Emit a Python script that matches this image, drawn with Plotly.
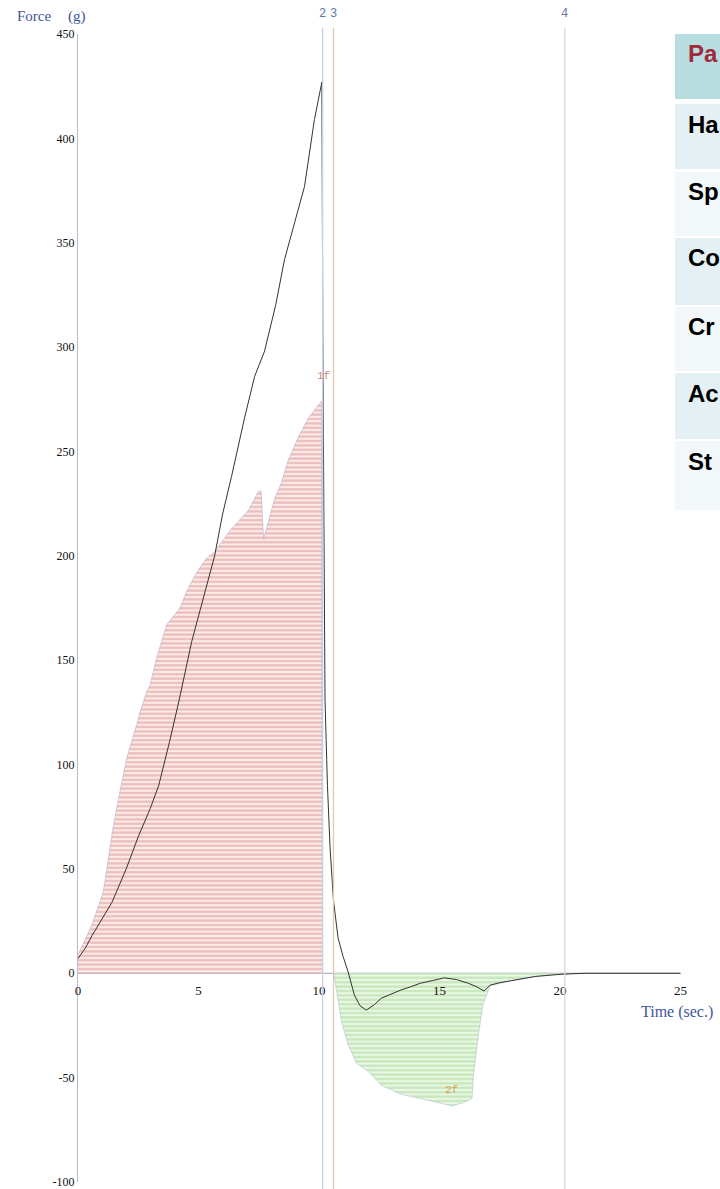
import plotly.graph_objects as go

# ---------------- data ----------------
# black force curve
t_force = [0, 0.3, 0.58, 1.0, 1.41, 2.0, 2.52, 3.0, 3.35, 3.8, 4.18, 4.72, 5.26,
           5.67, 6.0, 6.37, 6.91, 7.33, 7.74, 8.2, 8.57, 9.0, 9.40, 9.81, 10.12,
           10.16, 10.2, 10.25, 10.35, 10.46, 10.6, 10.79, 11.0, 11.2, 11.47, 11.7,
           11.96, 12.3, 12.58, 13.0, 13.4, 13.8, 14.2, 14.7, 15.2, 15.7, 16.2, 16.55,
           16.85, 17.1, 17.5, 18.0, 18.5, 19.0, 19.5, 20.0, 21.0, 25.0]
force = [7, 12, 18, 26, 34, 50, 66, 79, 90, 111, 130, 159, 183,
         200, 220, 238, 266, 286, 298, 320, 342, 360, 377, 409, 427,
         300, 227, 131, 90, 60, 35, 17, 8, 1, -10.5, -15.5,
         -17.7, -15, -12, -10, -8, -6.5, -4.8, -3.5, -2.2, -3, -4.8, -6.5,
         -8.5, -5.7, -4.5, -3.5, -2.5, -1.5, -1, -0.5, 0, 0]

# positive (red hatched) area envelope
t_pos = [0, 0.57, 1.05, 1.26, 1.47, 1.74, 2.02, 2.43, 2.57, 2.85, 2.99, 3.26, 3.68,
         4.23, 4.51, 4.92, 5.34, 5.67, 6.37, 7.08, 7.49, 7.6, 7.7, 7.82, 8.15,
         8.44, 8.73, 9.15, 9.56, 10.1, 10.15]
pos_area = [8.8, 23, 39, 55, 71, 87, 103, 119, 125, 135, 138, 151, 167,
            175, 183, 192, 199, 202, 213, 222, 231, 231, 208, 213, 227,
            235, 246, 257, 266, 274, 0]

# negative (green hatched) area envelope
t_neg = [10.62, 10.64, 10.93, 11.2, 11.55, 12.04, 12.58, 13.4, 14.2, 15.0, 15.5, 16.0,
         16.35, 16.4, 16.6, 16.8, 17.1, 18.0, 19.0, 20.0, 20.1]
neg_area = [0, -2, -23, -34, -43, -47, -53.6, -58, -60, -62, -63.5, -62,
            -60, -50, -31, -15, -6, -3.5, -1.5, -0.3, 0]

x_ticks = [0, 5, 10, 15, 20, 25]
y_ticks = [-100, -50, 0, 50, 100, 150, 200, 250, 300, 350, 400, 450]

markers_t = [10.15, 10.6, 20.2]
markers_lbl = ["2", "3", "4"]
markers_col = ["#c8d0e2", "#e0c8b4", "#e2d4c6"]

table_rows = ["Pa", "Ha", "Sp", "Co", "Cr", "Ac", "St"]
table_fill = ["#b8dde0", "#e4f0f3", "#f2f7f9", "#e4f0f3", "#f2f7f9", "#e4f0f3", "#f2f7f9"]
table_font_col = ["#9e2a3c", "#000000", "#000000", "#000000", "#000000", "#000000", "#000000"]

# ---------------- layout geometry ----------------
W, H = 720, 1189
ML, MR, MT, MB = 78, 0, 34, 7
PW, PH = W - ML - MR, H - MT - MB
XPX = 24.1  # px per second
x_max = PW / XPX


def px_x(px):
    return (px - ML) / PW


def px_y(py):
    return (H - MB - py) / PH


fig = go.Figure()

fig.add_trace(go.Scatter(
    x=t_pos, y=pos_area, mode="lines", fill="tozeroy",
    line=dict(color="rgba(150,150,200,0.6)", width=0.7),
    fillcolor="#fcecea",
    fillpattern=dict(shape="-", size=4.4, solidity=0.55,
                     fgcolor="#dc918d", bgcolor="#fcecea"),
    hoverinfo="skip", showlegend=False))

fig.add_trace(go.Scatter(
    x=t_neg, y=neg_area, mode="lines", fill="tozeroy",
    line=dict(color="rgba(150,170,200,0.6)", width=0.7),
    fillcolor="#eaf7e5",
    fillpattern=dict(shape="-", size=4.4, solidity=0.55,
                     fgcolor="#a6d895", bgcolor="#eaf7e5"),
    hoverinfo="skip", showlegend=False))

fig.add_trace(go.Scatter(
    x=t_force, y=force, mode="lines",
    line=dict(color="#333333", width=1),
    hoverinfo="skip", showlegend=False))

shapes = []
# zero line
shapes.append(dict(type="line", xref="x", yref="y", x0=0, x1=x_ticks[-1], y0=0, y1=0,
                   line=dict(color="#a0a0a8", width=1), layer="below"))
# marker lines
for t, c in zip(markers_t, markers_col):
    shapes.append(dict(type="line", xref="x", yref="paper", x0=t, x1=t,
                       y0=px_y(H), y1=px_y(28), line=dict(color=c, width=1.3)))

annotations = []
for t, lbl in zip(markers_t, markers_lbl):
    annotations.append(dict(x=t, y=px_y(14), xref="x", yref="paper", text=lbl,
                            showarrow=False, xanchor="center", yanchor="middle",
                            font=dict(family="Liberation Mono", size=12, color="#5a78a6")))
# 1f / 2f labels
annotations.append(dict(x=10.2, y=286, xref="x", yref="y", text="1f", showarrow=False,
                        xanchor="center", font=dict(family="Liberation Mono", size=11, color="#d48372")))
annotations.append(dict(x=15.5, y=-56, xref="x", yref="y", text="2f", showarrow=False,
                        xanchor="center", font=dict(family="Liberation Mono", size=11, color="#d3a050")))
# axis titles
annotations.append(dict(x=px_x(15), y=px_y(16), xref="paper", yref="paper", text="Force",
                        showarrow=False, xanchor="left", yanchor="middle",
                        font=dict(family="Liberation Serif", size=15, color="#3e55a0")))
annotations.append(dict(x=px_x(66), y=px_y(16), xref="paper", yref="paper", text="(g)",
                        showarrow=False, xanchor="left", yanchor="middle",
                        font=dict(family="Liberation Serif", size=15, color="#3e55a0")))
annotations.append(dict(x=px_x(677), y=px_y(1012), xref="paper", yref="paper", text="Time (sec.)",
                        showarrow=False, xanchor="center", yanchor="middle",
                        font=dict(family="Liberation Serif", size=16, color="#3e55a0")))

# table (partially visible at right edge)
row_tops = [34, 104, 172, 238, 307, 373, 441]
row_bot = [99, 169, 236, 305, 371, 439, 510]
for i, (lbl, fc, tc) in enumerate(zip(table_rows, table_fill, table_font_col)):
    y0 = row_tops[i]
    y1 = row_bot[i]
    shapes.append(dict(type="rect", xref="paper", yref="paper",
                       x0=px_x(675), x1=px_x(730), y0=px_y(y1), y1=px_y(y0),
                       fillcolor=fc, line=dict(width=0), layer="below"))
    annotations.append(dict(x=px_x(686), y=px_y(y0 + 20), xref="paper", yref="paper",
                            text="<b>%s</b>" % lbl, showarrow=False,
                            xanchor="left", yanchor="middle",
                            font=dict(family="Liberation Sans", size=24, color=tc)))

fig.update_layout(
    width=W, height=H,
    margin=dict(l=ML, r=MR, t=MT, b=MB),
    paper_bgcolor="white", plot_bgcolor="white",
    shapes=shapes, annotations=annotations,
    xaxis=dict(range=[0, x_max], tickvals=x_ticks, ticktext=[str(v) for v in x_ticks],
               showgrid=False, zeroline=False, showline=False, ticks="",
               anchor="free", position=px_y(975), ticklabelstandoff=6,
               ticklabeloverflow="allow",
               tickfont=dict(family="Liberation Serif", size=13, color="#111111")),
    yaxis=dict(range=[-100, 450], tickvals=y_ticks, ticktext=[str(v) for v in y_ticks],
               showgrid=False, zeroline=False, showline=True, linecolor="#b4bccf",
               linewidth=1, ticks="", ticklabeloverflow="allow",
               tickfont=dict(family="Liberation Serif", size=12, color="#111111")),
)

fig.write_html(
    "out.html",
    config={"displayModeBar": False},
    post_script="document.body.style.margin='0';document.body.style.overflow='hidden';",
)
